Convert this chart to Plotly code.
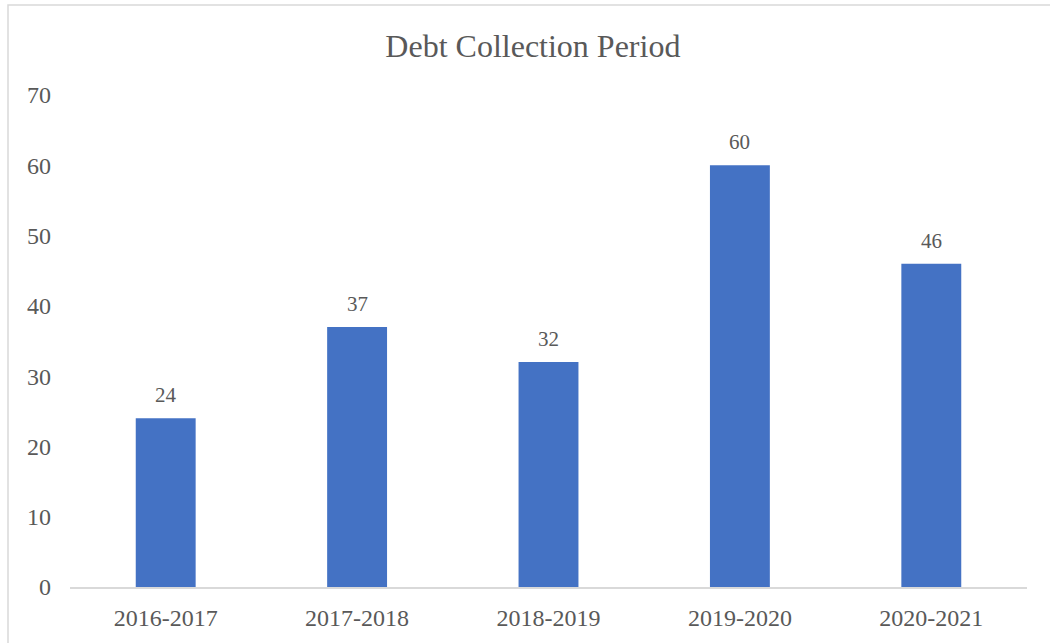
import plotly.graph_objects as go

# Debt collection period (days) by financial year
periods = ["2016-2017", "2017-2018", "2018-2019", "2019-2020", "2020-2021"]
days = [24, 37, 32, 60, 46]
y_ticks = [0, 10, 20, 30, 40, 50, 60, 70]

BAR_COLOR = "#4472C4"
TEXT_COLOR = "#595959"
LINE_COLOR = "#D9D9D9"
FONT = "Liberation Serif, Times New Roman, serif"

fig = go.Figure(
    go.Bar(
        x=periods,
        y=days,
        marker=dict(color=BAR_COLOR, line=dict(width=0)),
        width=0.313,
        hoverinfo="x+y",
    )
)

# value labels above each bar
for p, d in zip(periods, days):
    fig.add_annotation(
        x=p, y=d, text=str(d), showarrow=False,
        yanchor="middle", yshift=23,
        font=dict(family=FONT, size=21, color=TEXT_COLOR),
    )

# outer chart border
fig.add_shape(
    type="rect", xref="paper", yref="paper",
    x0=(8 - 70) / 957, x1=(1060 - 70) / 957,
    y0=(587 - 660) / 492, y1=(587 - 5) / 492,
    line=dict(color=LINE_COLOR, width=1.5), fillcolor="rgba(0,0,0,0)",
    layer="below",
)

fig.update_layout(
    width=1050,
    height=643,
    margin=dict(l=70, r=23, t=95, b=56),
    paper_bgcolor="white",
    plot_bgcolor="white",
    showlegend=False,
    bargap=0.687,
    title=dict(
        text="Debt Collection Period",
        x=0.5075, xanchor="center",
        y=1 - 46 / 643, yanchor="middle", yref="container",
        font=dict(family=FONT, size=32, color=TEXT_COLOR),
    ),
    xaxis=dict(
        showgrid=False,
        showline=True, linecolor=LINE_COLOR, linewidth=1.5,
        ticks="",
        tickfont=dict(family=FONT, size=24, color=TEXT_COLOR),
        ticklabelstandoff=8,
    ),
    yaxis=dict(
        range=[0, 70],
        tickvals=y_ticks,
        showgrid=False, zeroline=False, showline=False,
        ticks="",
        tickfont=dict(family=FONT, size=24, color=TEXT_COLOR),
        ticklabelstandoff=18,
    ),
)

fig.write_html("out.html")
